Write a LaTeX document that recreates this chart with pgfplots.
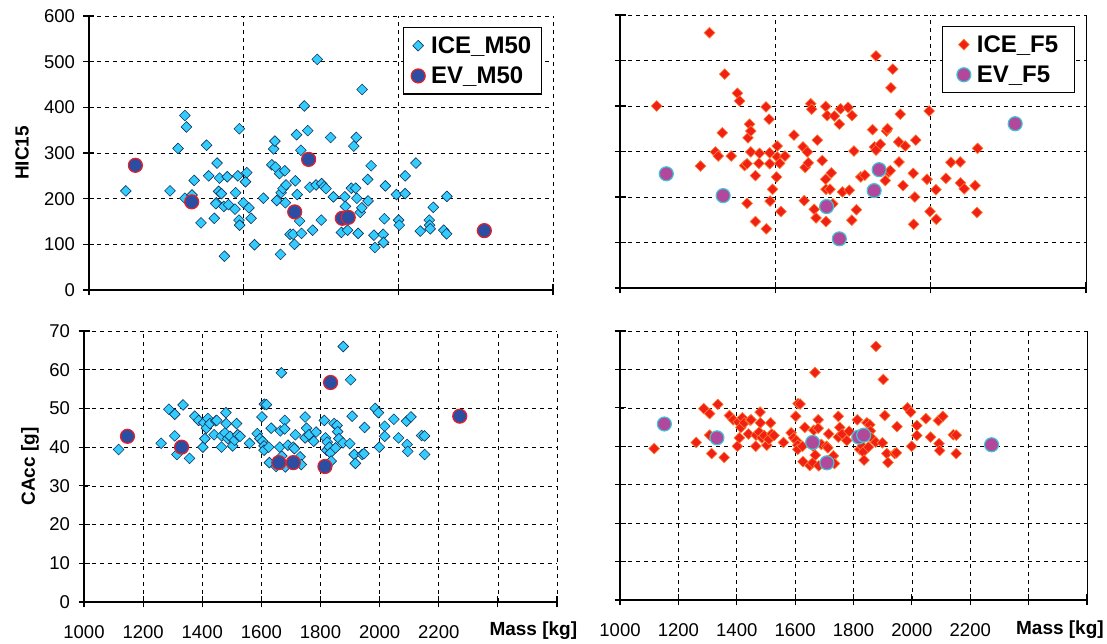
\documentclass[border=0pt]{standalone}
\usepackage{pgfplots}
\pgfplotsset{compat=1.18}
\usepackage{pgfplotstable}
\usepackage{fontspec}
\setmainfont{Liberation Sans}

\definecolor{iceB}{RGB}{51,204,255}
\definecolor{iceBo}{RGB}{20,50,90}
\definecolor{evB}{RGB}{43,78,162}
\definecolor{evBo}{RGB}{235,30,40}
\definecolor{iceR}{RGB}{240,32,22}
\definecolor{iceRo}{RGB}{255,125,45}
\definecolor{evP}{RGB}{178,72,156}
\definecolor{evPo}{RGB}{64,196,210}

\pgfplotstableread{
m h
1119 217
1262 217
1288 310
1310 382
1315 357
1310 201
1333 208
1340 240
1362 147
1380 317
1387 250
1405 157
1414 278
1412 191
1419 216
1422 245
1428 211
1410 189
1438 74
1436 183
1447 248
1451 187
1472 177
1474 213
1481 250
1486 353
1485 153
1487 142
1499 191
1506 237
1510 257
1517 180
1524 157
1535 99
1564 201
1591 274
1597 309
1601 326
1603 269
1607 196
1616 255
1621 213
1627 222
1633 261
1637 230
1635 191
1619 78
1650 122
1660 122
1664 100
1667 239
1673 209
1671 340
1681 151
1685 306
1687 124
1696 403
1707 349
1714 225
1723 131
1734 230
1738 505
1751 153
1752 233
1760 226
1766 222
1781 334
1790 204
1816 126
1827 204
1829 183
1836 131
1848 223
1856 315
1864 334
1862 223
1866 201
1870 124
1877 170
1882 180
1883 439
1901 242
1902 195
1912 272
1921 120
1924 93
1951 122
1952 104
1955 156
1958 228
1994 209
2001 153
2003 142
2022 211
2022 250
2057 278
2071 129
2100 153
2101 142
2103 134
2113 181
2147 131
2156 123
2157 205
}\iceMhic

\pgfplotstableread{
m h
1150 273
1332 193
1665 171
1710 286
1819 157
1838 159
2278 130
}\evMhic

\pgfplotstableread{
m h
1118 400
1259 268
1288 561
1307 299
1316 290
1329 341
1337 470
1358 290
1378 428
1385 411
1401 269
1409 273
1409 186
1412 330
1417 360
1421 345
1421 299
1436 247
1436 146
1447 274
1449 296
1470 398
1471 130
1480 371
1482 297
1482 273
1483 191
1491 217
1504 244
1506 312
1506 288
1514 274
1518 168
1531 290
1560 336
1589 310
1593 192
1596 265
1603 299
1606 275
1614 405
1617 393
1625 173
1631 154
1635 325
1651 280
1662 399
1662 239
1663 217
1663 146
1667 379
1676 217
1680 253
1685 185
1690 378
1706 360
1710 394
1716 211
1734 397
1738 215
1747 379
1746 149
1753 301
1761 172
1775 244
1788 248
1813 348
1819 310
1824 303
1824 510
1838 316
1854 236
1858 345
1861 350
1865 255
1870 258
1872 440
1878 481
1898 277
1897 321
1902 382
1911 225
1918 312
1944 252
1949 200
1945 140
1952 325
1988 239
1995 389
1998 168
2017 216
2018 151
2049 241
2065 276
2095 277
2096 231
2108 218
2143 225
2149 166
2151 307
}\iceFhic

\pgfplotstableread{
m h
1149 251
1332 203
1665 179
1706 108
1818 214
1834 260
2272 361
}\evFhic

\pgfplotstableread{
m c
1117 39.4
1261 41.0
1287 49.8
1307 48.5
1307 42.9
1314 38.1
1335 50.9
1357 37.1
1375 48.0
1388 46.9
1402 40.0
1405 46.3
1409 42.2
1414 44.9
1419 47.4
1426 46.1
1440 43.2
1446 46.8
1449 46.9
1465 40.0
1466 42.9
1477 43.7
1480 48.9
1481 46.1
1486 42.2
1494 42.8
1503 40.3
1510 41.8
1516 46.1
1520 43.2
1528 42.8
1560 41.0
1586 43.5
1595 42.2
1602 47.8
1604 41.5
1609 40.3
1610 51.1
1617 51.0
1609 39.2
1625 40.0
1627 36.0
1633 44.9
1650 35.0
1660 35.7
1662 40.0
1664 44.2
1668 59.2
1669 37.7
1679 46.9
1679 44.7
1681 34.9
1690 40.5
1708 40.0
1712 39.6
1715 43.2
1731 37.5
1735 35.5
1748 47.8
1753 44.9
1748 42.4
1761 43.2
1777 41.5
1785 43.9
1813 46.9
1817 42.4
1821 39.2
1823 41.3
1830 40.0
1833 38.5
1836 36.4
1846 46.1
1851 39.8
1856 45.6
1858 44.0
1862 42.2
1876 41.1
1877 66.0
1899 40.9
1902 57.4
1907 48.0
1914 38.1
1918 35.8
1941 38.1
1947 38.3
1949 45.1
1985 50.0
1996 48.9
1999 40.0
2017 45.4
2017 42.8
2048 47.2
2064 42.4
2091 46.7
2093 40.7
2095 38.9
2106 47.8
2142 43.0
2152 42.9
2152 38.1
}\iceCacc

\pgfplotstableread{
m c
1147 42.8
1330 40.0
1659 36.0
1708 36.0
1815 35.0
1834 56.7
2271 48.0
}\evMcacc

\pgfplotstableread{
m c
1152 45.8
1332 42.2
1660 41.0
1709 35.7
1818 42.4
1835 42.9
2273 40.4
}\evFcacc

\tikzset{lab/.style={font=\bfseries\fontsize{19}{22}\selectfont}}

\pgfplotsset{
  base/.style={
    scale only axis, anchor=south west, clip=false,
    axis x line*=bottom, axis y line*=left,
    axis line style={-, line width=1.8pt},
    grid=major,
    grid style={black, dash pattern=on 4pt off 4pt, line width=0.7pt},
    tick align=center, major tick length=11pt,
    tick style={black, line width=1.2pt},
    tick label style={font=\fontsize{18.5}{20}\selectfont},
    yticklabel style={xshift=-5pt},
    xticklabel style={yshift=-15pt},
    /pgf/number format/assume math mode=true,
    legend cell align=left,
    legend style={at={(rel axis cs:0.976,0.96)}, anchor=north east,
      draw=black, line width=1.2pt,
      font=\bfseries\fontsize{24}{26}\selectfont,
      inner xsep=8pt, inner ysep=7pt, row sep=8pt, column sep=4pt},
  },
  iceM/.style={only marks, mark=square*, mark size=3.8pt,
    mark options={rotate=45, fill=iceB, draw=iceBo, line width=0.6pt}},
  evM/.style={only marks, mark=*, mark size=7pt,
    mark options={fill=evB, draw=evBo, line width=1.2pt}},
  iceF/.style={only marks, mark=square*, mark size=3.8pt,
    mark options={rotate=45, fill=iceR, draw=iceRo, line width=0.6pt}},
  evF/.style={only marks, mark=*, mark size=7pt,
    mark options={fill=evP, draw=evPo, line width=1.2pt}},
  toprow/.style={xmin=1000, xmax=2500, ymin=0, ymax=600,
    xtick={1000,1500,2000,2500}, xticklabels={},
    ytick={0,100,...,600}},
  botrow/.style={xmin=1000, xmax=2600, ymin=0, ymax=70,
    xtick={1000,1200,...,2600},
    xticklabels={1000,1200,1400,1600,1800,2000,2200,,},
    ytick={0,10,...,70}},
}

\begin{document}
\begin{tikzpicture}
\useasboundingbox (0,0) rectangle (1107pt,644pt);

% top left
\begin{axis}[base, toprow, at={(89pt,354pt)}, width=464pt, height=274pt,
  ylabel={HIC15}, ylabel style={lab, at={(rel axis cs:-0.144,0.5)}, anchor=center}]
\addplot[iceM] table[x=m,y=h] {\iceMhic};
\addlegendentry{ICE\_M50}
\addplot[evM] table[x=m,y=h] {\evMhic};
\addlegendentry{EV\_M50}
\end{axis}

% top right
\begin{axis}[base, toprow, at={(620pt,356pt)}, width=466pt, height=273pt,
  yticklabels={}, legend style={inner xsep=14pt}]
\draw[line width=1pt] (rel axis cs:1,0) -- (rel axis cs:1,1);
\addplot[iceF] table[x=m,y=h] {\iceFhic};
\addlegendentry{ICE\_F5}
\addplot[evF] table[x=m,y=h] {\evFhic};
\addlegendentry{EV\_F5}
\end{axis}

% bottom left
\begin{axis}[base, botrow, at={(84pt,42pt)}, width=473pt, height=271pt,
  ylabel={CAcc [g]}, ylabel style={lab, at={(rel axis cs:-0.114,0.5)}, anchor=center},
  xlabel={Mass [kg]}, xlabel style={lab, at={(rel axis cs:0.950,-0.122)}, anchor=base}]
\addplot[iceM] table[x=m,y=c] {\iceCacc};
\addplot[evM] table[x=m,y=c] {\evMcacc};
\end{axis}

% bottom right
\begin{axis}[base, botrow, at={(620pt,44pt)}, width=467pt, height=269pt,
  yticklabels={},
  xlabel={Mass [kg]}, xlabel style={lab, at={(rel axis cs:0.942,-0.130)}, anchor=base}]
\draw[line width=1pt] (rel axis cs:1,0) -- (rel axis cs:1,1);
\addplot[iceF] table[x=m,y=c] {\iceCacc};
\addplot[evF] table[x=m,y=c] {\evFcacc};
\end{axis}
\end{tikzpicture}
\end{document}
